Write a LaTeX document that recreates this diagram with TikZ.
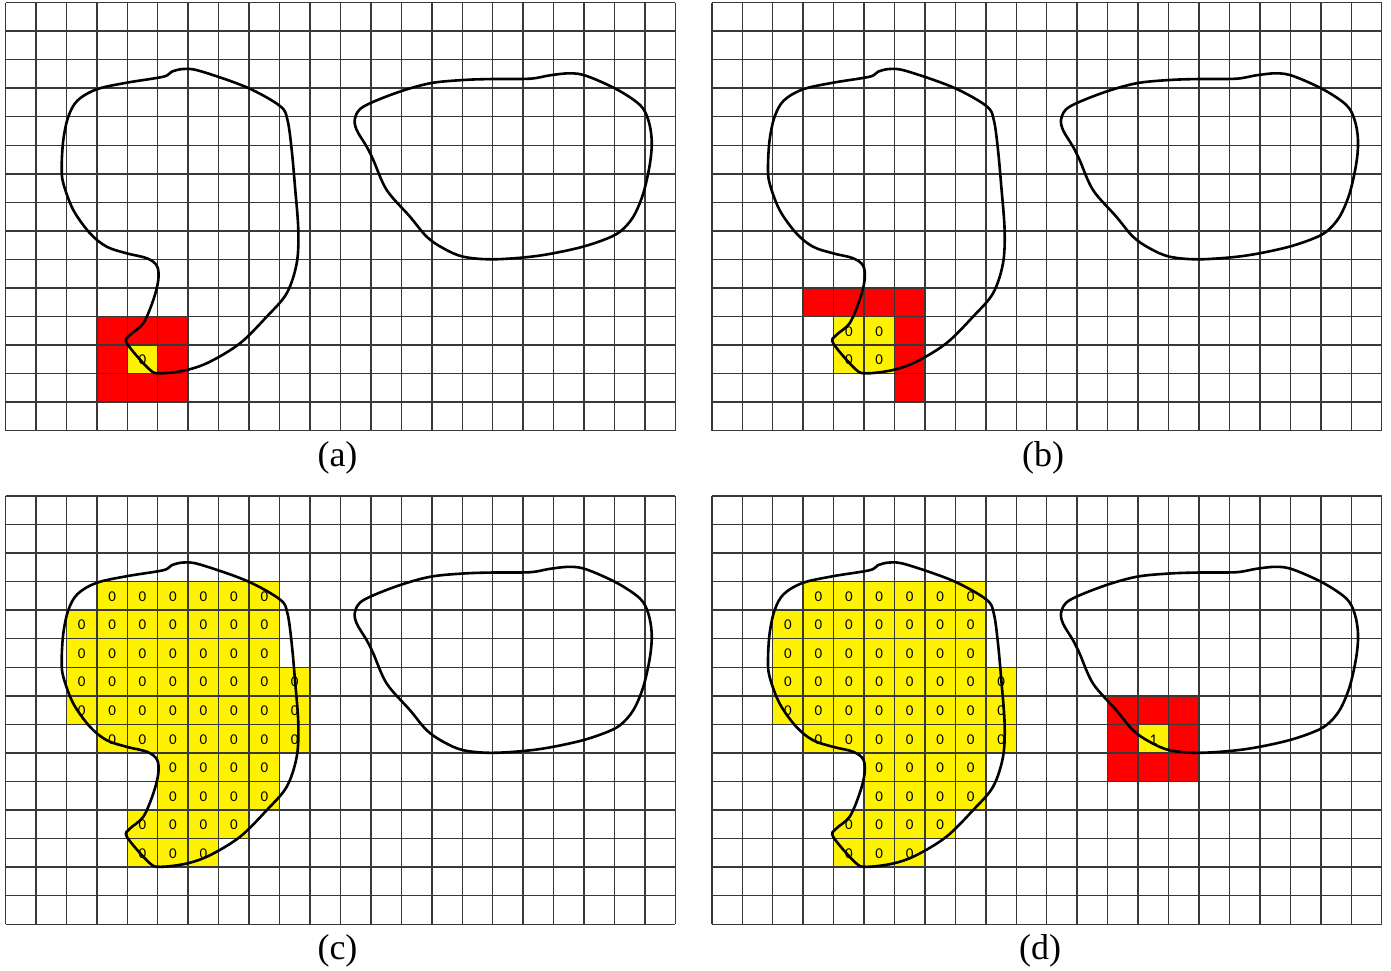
\documentclass[tikz,border=0pt]{standalone}
\usepackage{fontspec}
\setmainfont{Liberation Serif}
\newfontfamily\digitfont{Carlito}
\begin{document}
\begin{tikzpicture}[x=1pt,y=-1pt,
  gridline/.style={draw=black!78,line width=1.45pt},
  blobline/.style={draw=black,line width=2.6pt,line join=round},
  digit/.style={inner sep=0pt,font=\digitfont\fontsize{15}{15}\selectfont},
  caption/.style={inner sep=0pt,font=\fontsize{36}{40}\selectfont},
  redcell/.style={fill=red},
  yelcell/.style={fill=yellow}]
\useasboundingbox (0,0) rectangle (1391,970);
\def\cw{30.45}
\def\ch{28.55}
\newcommand\cellfill[4]{% style, col, row, panelname
  \path[#1] ({5.5+#2*\cw},{2.5+#3*\ch}) rectangle ++(\cw,\ch);}
\newcommand\digitat[4]{% col,row,text,name
  \node[digit] (#4) at ({5.5+(#1+0.5)*\cw},{3+(#2+0.5)*\ch}) {#3};}
\newcommand\yrow[4]{% row, from, to, prefix
  \path[yelcell] ({5.5+#2*\cw},{2.5+#1*\ch}) rectangle ({5.5+(#3+1)*\cw},{2.5+(#1+1)*\ch});}
\newcommand\yrowdigits[4]{%
  \foreach \c in {#2,...,#3} {\digitat{\c}{#1}{0}{#4-\c-#1}}}
\newcommand\bigfill[4]{%
  \yrow{3}{3}{8}{#1}\yrow{4}{2}{8}{#1}\yrow{5}{2}{8}{#1}\yrow{6}{2}{9}{#1}
  \yrow{7}{2}{9}{#1}\yrow{8}{3}{9}{#1}\yrow{9}{5}{8}{#1}\yrow{10}{5}{8}{#1}
  \yrow{11}{4}{7}{#1}\yrow{12}{4}{6}{#1}}
\newcommand\bigdigits[1]{%
  \yrowdigits{3}{3}{8}{#1}\yrowdigits{4}{2}{8}{#1}\yrowdigits{5}{2}{8}{#1}\yrowdigits{6}{2}{9}{#1}
  \yrowdigits{7}{2}{9}{#1}\yrowdigits{8}{3}{9}{#1}\yrowdigits{9}{5}{8}{#1}\yrowdigits{10}{5}{8}{#1}
  \yrowdigits{11}{4}{7}{#1}\yrowdigits{12}{4}{6}{#1}}
\newcommand\gridandblobs{%
  \foreach \i in {0,...,22} {\draw[gridline] ({5.5+\i*\cw},2.5) -- ++(0,{15*\ch});}
  \foreach \j in {0,...,15} {\draw[gridline] (5.5,{2.5+\j*\ch}) -- ++({22*\cw},0);}
}
\newcommand\blobs{%
  \draw[blobline] plot[smooth cycle,tension=0.55] coordinates {
    (96.7,89.3) (126.7,82.7) (163.3,76.7) (171.7,71.7) (183.3,69) (200,71)
    (246.7,87.3) (280,106) (287.5,120) (291.7,150) (295,186.7) (298.3,230)
    (296.7,263.3) (286.7,293.3) (266.7,316.7) (240,343.3) (210,361.7)
    (186.7,370) (160,373.3) (149,369) (127,343.5) (129.5,335.5) (143.3,323.3)
    (153.3,300) (158.3,280) (157,266) (147,258.3) (126.7,253.3) (106.7,246.7)
    (90,233.3) (73.3,210) (63.3,183.3) (61.7,166.7) (63.3,140) (68.3,116.7)
    (77.5,100.5)};
  \draw[blobline] plot[smooth cycle,tension=0.55] coordinates {
    (355,118.3) (363.3,106.7) (396.7,92.7) (430,83.3) (463.3,80) (493.3,79)
    (530,78.7) (550,75.3) (570,73.3) (586.7,76) (616.7,89.3) (640,105)
    (648.3,120) (651.7,140) (650,163.3) (643.3,193.3) (633.3,216.7)
    (620,231.7) (603.3,240) (576.7,248.3) (536.7,256) (493.3,259.3)
    (463.3,256.7) (443.3,248.3) (426.7,236.7) (410,216.7) (386.7,190)
    (373.3,160) (366.7,146.7) (356.7,130)};
}
% ---------- panel (a)
\begin{scope}
  \path[redcell] ({5.5+3*\cw},{2.5+11*\ch}) rectangle ++({3*\cw},{3*\ch});
  \cellfill{yelcell}{4}{12}{a}
  \gridandblobs
  \digitat{4}{12}{0}{a-4-12}
  \blobs
\end{scope}
% ---------- panel (b)
\begin{scope}[shift={(706.3,0)}]
  \path[redcell] ({5.5+3*\cw},{2.5+10*\ch}) rectangle ++({4*\cw},\ch);
  \path[redcell] ({5.5+6*\cw},{2.5+11*\ch}) rectangle ++(\cw,{3*\ch});
  \path[yelcell] ({5.5+4*\cw},{2.5+11*\ch}) rectangle ++({2*\cw},{2*\ch});
  \gridandblobs
  \digitat{4}{11}{0}{b-4-11}\digitat{5}{11}{0}{b-5-11}
  \digitat{4}{12}{0}{b-4-12}\digitat{5}{12}{0}{b-5-12}
  \blobs
\end{scope}
% ---------- panel (c)
\begin{scope}[shift={(0,493.5)}]
  \bigfill{c}{}{}{}
  \gridandblobs
  \bigdigits{c}
  \blobs
\end{scope}
% ---------- panel (d)
\begin{scope}[shift={(706.3,493.5)}]
  \bigfill{d}{}{}{}
  \path[redcell] ({5.5+13*\cw},{2.5+7*\ch}) rectangle ++({3*\cw},{3*\ch});
  \cellfill{yelcell}{14}{8}{d}
  \gridandblobs
  \bigdigits{d}
  \digitat{14}{8}{1}{d-14-8}
  \blobs
\end{scope}
% ---------- captions
\node[caption] (capa) at (337.5,457.5) {(a)};
\node[caption] (capb) at (1043,457.5) {(b)};
\node[caption] (capc) at (337.5,951) {(c)};
\node[caption] (capd) at (1040,951) {(d)};
\end{tikzpicture}
\end{document}
